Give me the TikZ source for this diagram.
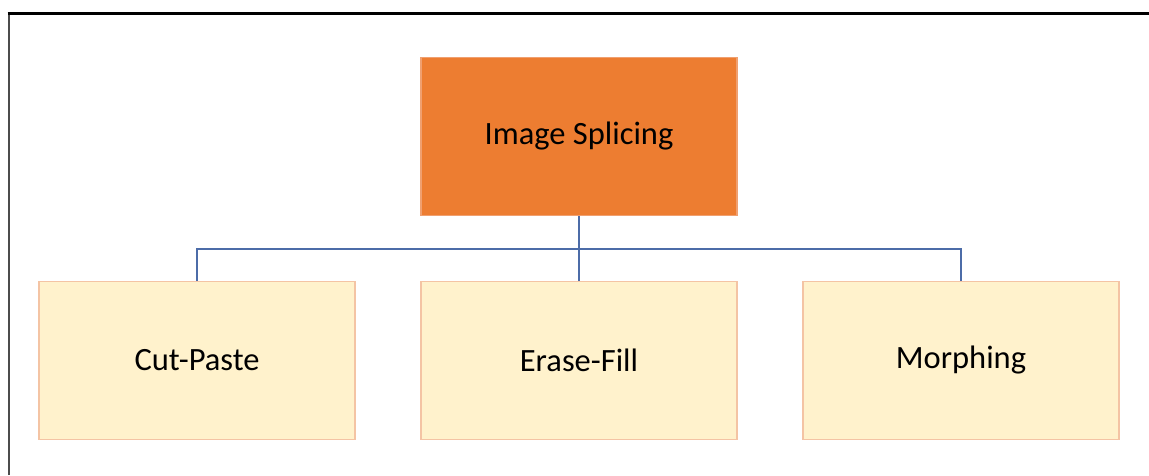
\documentclass[tikz,border=0pt]{standalone}
\usepackage{fontspec}
\setmainfont{Carlito}
\definecolor{rootfill}{HTML}{ED7D31}
\definecolor{rootline}{HTML}{F0A070}
\definecolor{leaffill}{HTML}{FFF2CC}
\definecolor{leafline}{HTML}{F4C4A4}
\definecolor{busline}{HTML}{4C6CA8}
\tikzset{
  box/.style={rectangle, minimum width=316pt, minimum height=158pt,
    inner sep=0pt, line width=1.5pt, font=\fontsize{32.5}{38}\selectfont},
  root/.style={box, fill=rootfill, draw=rootline},
  leaf/.style={box, fill=leaffill, draw=leafline},
  link/.style={draw=busline, line width=1.3pt}
}
\begin{document}
\begin{tikzpicture}[x=1pt,y=-1pt]
  \useasboundingbox (0,0) rectangle (1149,475);
  % outer frame (top and left edges)
  \draw[black!70, line width=2pt] (8.5,475) -- (8.5,13.5);
  \draw[black, line width=2.2pt] (7.5,13.5) -- (1149,13.5);

  \node[root] (top) at (579,136.5) {Image Splicing};
  \node[leaf] (cut)   at (197,360.5) {Cut-Paste};
  \node[leaf] (erase) at (579,360.5) {Erase-Fill};
  \node[leaf] (morph) at (961,360.5) {Morphing};

  \coordinate (bus) at (579,249);
  \draw[link] (top.south) -- (bus);
  \draw[link] (cut.north) |- (bus) -| (morph.north);
  \draw[link] (bus) -- (erase.north);
\end{tikzpicture}
\end{document}
